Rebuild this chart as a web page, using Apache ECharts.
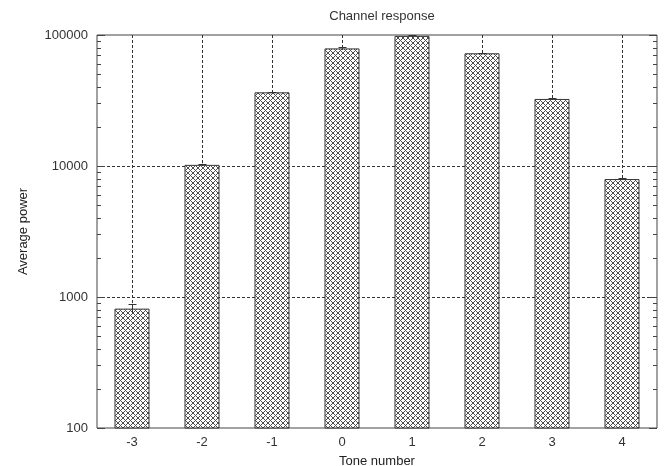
<!DOCTYPE html>
<html>
<head>
<meta charset="utf-8">
<script src="https://cdn.jsdelivr.net/npm/echarts@6/dist/echarts.min.js"></script>
<style>html,body{margin:0;padding:0;background:#fff}#c{width:667px;height:466px}</style>
</head>
<body>
<div id="c"></div>
<script>
const categories = ['-3', '-2', '-1', '0', '1', '2', '3', '4'];
const powerValues = [815, 10200, 36500, 79000, 98500, 72500, 32500, 7950];
const powerErrors = [70, 200, 300, 2000, 1500, 1000, 300, 100];
const yMajorTicks = [100, 1000, 10000, 100000];
const yMinorTicks = [200, 300, 400, 500, 600, 700, 800, 900,
  2000, 3000, 4000, 5000, 6000, 7000, 8000, 9000,
  20000, 30000, 40000, 50000, 60000, 70000, 80000, 90000];
const yGridValues = [1000, 10000];

// crosshatch pattern
const P = 5;
const pat = document.createElement('canvas');
pat.width = P; pat.height = P;
const pctx = pat.getContext('2d');
pctx.fillStyle = '#ffffff';
pctx.fillRect(0, 0, P, P);
pctx.fillStyle = '#4d4d4d';
for (let x = 0; x < P; x++) for (let y = 0; y < P; y++) {
  if ((x + y) % P === 0 || ((x - y) % P + P) % P === 0) pctx.fillRect(x, y, 1, 1);
}

const font = '"Liberation Sans", Arial, sans-serif';
const chart = echarts.init(document.getElementById('c'), null, {renderer: 'canvas'});

const gridLineStyle = {stroke: '#333', lineWidth: 1, lineDash: [3, 2]};

chart.setOption({
  animation: false,
  backgroundColor: '#fff',
  title: {
    text: 'Channel response', left: 377, top: 5, textAlign: 'center',
    textStyle: {fontFamily: font, fontSize: 13, fontWeight: 'normal', color: '#333'}
  },
  grid: {left: 97, right: 10, top: 35, bottom: 38, outerBoundsMode: 'none', containLabel: false,
    show: true, borderColor: '#444', borderWidth: 1, backgroundColor: 'transparent'},
  xAxis: {
    type: 'category', data: categories, boundaryGap: true,
    axisLine: {show: false}, axisTick: {show: false}, splitLine: {show: false},
    axisLabel: {fontFamily: font, fontSize: 13, color: '#333', margin: 8},
    name: 'Tone number', nameLocation: 'middle', nameGap: 27,
    nameTextStyle: {fontFamily: font, fontSize: 13, color: '#222'}
  },
  yAxis: {
    type: 'log', logBase: 10, min: 100, max: 100000,
    axisLine: {show: false}, axisTick: {show: false}, minorTick: {show: false},
    splitLine: {show: false},
    axisLabel: {fontFamily: font, fontSize: 13, color: '#333', margin: 9, formatter: v => String(Math.round(v))},
    name: 'Average power', nameLocation: 'middle', nameGap: 67,
    nameTextStyle: {fontFamily: font, fontSize: 13, color: '#222'}
  },
  series: [
    {
      type: 'custom', z: 1, silent: true,
      data: categories.map((c, i) => [i]),
      renderItem: (params, api) => {
        const cs = params.coordSys;
        const x = Math.round(api.coord([api.value(0), 1000])[0]) + 0.5;
        return {type: 'line', shape: {x1: x, y1: cs.y, x2: x, y2: cs.y + cs.height}, style: gridLineStyle};
      }
    },
    {
      type: 'custom', z: 1, silent: true,
      data: yGridValues.map(v => [0, v]),
      renderItem: (params, api) => {
        const cs = params.coordSys;
        const y = Math.round(api.coord([0, api.value(1)])[1]) + 0.5;
        return {type: 'line', shape: {x1: cs.x, y1: y, x2: cs.x + cs.width, y2: y}, style: gridLineStyle};
      }
    },
    {
      type: 'bar', z: 2, barWidth: '50%',
      data: powerValues,
      itemStyle: {color: {image: pat, repeat: 'repeat'}, borderColor: '#333', borderWidth: 1}
    },
    {
      type: 'custom', z: 3, silent: true,
      data: powerValues.map((v, i) => [i, v - powerErrors[i], v + powerErrors[i]]),
      renderItem: (params, api) => {
        const lo = api.coord([api.value(0), api.value(1)]);
        const hi = api.coord([api.value(0), api.value(2)]);
        const x = Math.round(lo[0]) + 0.5;
        const st = {stroke: '#333', lineWidth: 1};
        return {type: 'group', children: [
          {type: 'line', shape: {x1: x, y1: lo[1], x2: x, y2: hi[1]}, style: st},
          {type: 'line', shape: {x1: x - 4, y1: Math.round(hi[1]) + 0.5, x2: x + 4, y2: Math.round(hi[1]) + 0.5}, style: st}
        ]};
      }
    },
    {
      type: 'custom', z: 4, silent: true,
      data: yMajorTicks.map(v => [0, v, 8]).concat(yMinorTicks.map(v => [0, v, 4])),
      renderItem: (params, api) => {
        const cs = params.coordSys;
        const y = Math.round(api.coord([0, api.value(1)])[1]) + 0.5;
        const len = api.value(2);
        const st = {stroke: '#444', lineWidth: 1};
        return {type: 'group', children: [
          {type: 'line', shape: {x1: cs.x, y1: y, x2: cs.x + len, y2: y}, style: st},
          {type: 'line', shape: {x1: cs.x + cs.width - len, y1: y, x2: cs.x + cs.width, y2: y}, style: st}
        ]};
      }
    }
  ]
});
</script>
</body>
</html>
